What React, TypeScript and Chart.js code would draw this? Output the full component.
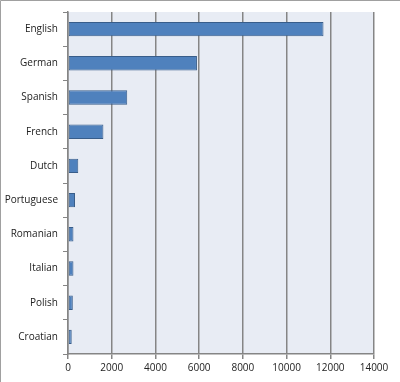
import React, { useEffect, useRef } from "react";
import { Chart, registerables } from "chart.js";

Chart.register(...registerables);

const languages = ["English", "German", "Spanish", "French", "Dutch", "Portuguese", "Romanian", "Italian", "Polish", "Croatian"];
const counts = [11690, 5900, 2710, 1620, 470, 320, 250, 250, 220, 170];
const xMin = 0;
const xMax = 14000;
const xStep = 2000;

export default function App() {
  const ref = useRef<HTMLCanvasElement | null>(null);
  useEffect(() => {
    document.body.style.margin = "0";
    const bg = {
      id: "bg",
      beforeDraw(chart: any) {
        const { ctx, chartArea: a } = chart;
        ctx.save();
        ctx.fillStyle = "#ffffff";
        ctx.fillRect(0, 0, chart.width, chart.height);
        ctx.fillStyle = "#e8ecf4";
        ctx.fillRect(a.left, a.top, a.right - a.left, a.bottom - a.top);
        ctx.restore();
      },
      afterDraw(chart: any) {
        const { ctx } = chart;
        ctx.save();
        ctx.strokeStyle = "#a0a0a0";
        ctx.lineWidth = 1;
        ctx.beginPath();
        ctx.moveTo(0.5, chart.height);
        ctx.lineTo(0.5, 0.5);
        ctx.lineTo(chart.width, 0.5);
        ctx.stroke();
        ctx.restore();
      },
    };
    const chart = new Chart(ref.current!, {
      type: "bar",
      data: {
        labels: languages,
        datasets: [
          {
            data: counts,
            backgroundColor: "#4f81bd",
            borderColor: "#385d8a",
            borderWidth: 1,
            borderSkipped: false,
            categoryPercentage: 1,
            barPercentage: 0.42,
          },
        ],
      },
      options: {
        indexAxis: "y",
        animation: false,
        responsive: false,
        layout: { padding: { top: 12, right: 26, bottom: 0, left: 0 } },
        plugins: { legend: { display: false }, tooltip: { enabled: false } },
        scales: {
          x: {
            min: xMin,
            max: xMax,
            ticks: {
              stepSize: xStep,
              color: "#222",
              font: { family: "Open Sans", size: 10 },
              padding: 3,
              maxRotation: 0,
              callback: (v: any) => String(v),
            },
            grid: {
              color: "#858585",
              lineWidth: 1.5,
              drawTicks: true,
              tickLength: 5,
              tickColor: "#858585",
            },
            border: { display: true, color: "#858585", width: 1.5 },
            afterFit(scale: any) {
              scale.height = 28;
            },
          },
          y: {
            ticks: {
              color: "#222",
              font: { family: "Open Sans", size: 10 },
              padding: 5,
            },
            grid: {
              offset: true,
              drawOnChartArea: false,
              drawTicks: true,
              tickLength: 5,
              color: "#858585",
            },
            border: { display: true, color: "#858585", width: 1.5 },
            afterFit(scale: any) {
              scale.width = 68;
            },
          },
        },
      },
      plugins: [bg],
    });
    return () => chart.destroy();
  }, []);
  return (
    <div style={{ width: 400, height: 382 }}>
      <canvas ref={ref} width={400} height={382} style={{ display: "block" }} />
    </div>
  );
}
